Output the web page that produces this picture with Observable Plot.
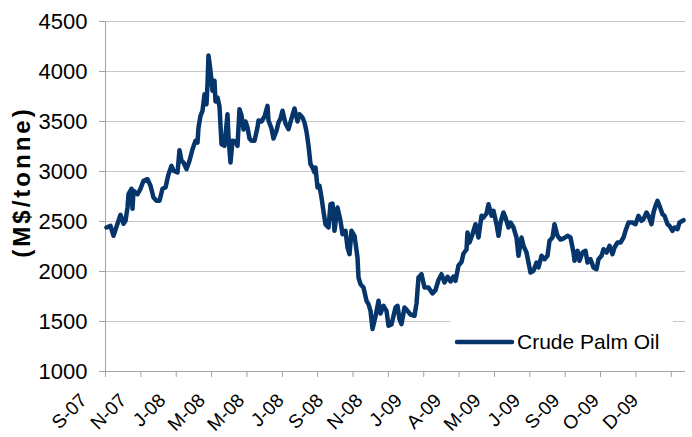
<!DOCTYPE html>
<html><head><meta charset="utf-8">
<script src="https://cdn.jsdelivr.net/npm/d3@7"></script>
<script src="https://cdn.jsdelivr.net/npm/@observablehq/plot@0.6"></script>
<style>
body{margin:0;background:#fff;font-family:"Liberation Sans",Arial,sans-serif;}
#wrap{position:relative;width:692px;height:437px;overflow:hidden;}
#title{position:absolute;left:22px;top:182px;transform:translate(-50%,-50%) rotate(-90deg);font-weight:bold;font-size:24px;letter-spacing:3px;white-space:nowrap;color:#000;}
#legend{position:absolute;left:450px;top:319px;width:223px;height:46px;background:#fff;display:flex;align-items:center;font-size:21px;color:#000;}
#legend svg{display:block;flex:none;}
</style></head><body>
<div id="wrap"><div id="chart"></div>
<div id="title">(M$/tonne)</div>
<div id="legend"><svg width="67" height="10"><line x1="7" y1="5" x2="62" y2="5" stroke="#05356a" stroke-width="4.5" stroke-linecap="round"/></svg><span id="legtext"></span></div>
</div>
<script>
const seriesName = "Crude Palm Oil";
const tickLabels = ["S-07","N-07","J-08","M-08","M-08","J-08","S-08","N-08","J-09","A-09","M-09","J-09","S-09","O-09","D-09"];
const yTicks = [1000,1500,2000,2500,3000,3500,4000,4500];
// trading-day index (approx.) and price
const days = [1,5,8,12,15,18,20,22,23,26,27,28,32,35,38,42,45,48,51,54,57,60,63,66,68,72,74,76,78,81,84,87,90,92,93,95,97,99,101,102,103,105,107,109,110,112,114,116,119,122,123,125,127,130,132,134,136,138,140,142,144,146,149,152,153,156,159,162,163,166,168,171,173,175,177,180,183,186,189,192,194,197,199,201,203,205,207,209,210,212,214,216,218,220,223,225,227,229,232,235,237,240,242,244,246,249,252,253,255,258,261,263,265,267,270,273,275,278,281,283,286,290,292,294,296,299,302,305,309,311,313,316,319,323,327,330,333,336,339,342,345,348,350,353,356,358,361,362,364,367,370,373,376,378,381,383,386,388,391,393,395,398,400,403,405,408,411,413,416,418,421,423,425,428,431,433,436,439,442,444,447,449,452,455,458,462,465,468,469,472,474,477,480,482,485,488,491,493,496,498,501,504,507,509,512,515,518,520,523,527,530,533,536,538,541,543,546,548,550,552,554,557,559,562,564,567,569,572,574,578];
const prices = [2440,2457,2357,2477,2567,2477,2507,2640,2773,2827,2627,2807,2773,2827,2907,2923,2857,2740,2707,2707,2827,2840,2973,3057,3007,2990,3213,3107,3090,3023,3107,3223,3307,3290,3440,3557,3607,3773,3673,3873,4160,4007,3807,3907,3700,3740,3650,3273,3257,3573,3340,3090,3307,3300,3257,3623,3560,3420,3500,3440,3330,3307,3307,3440,3510,3500,3550,3657,3510,3430,3330,3407,3490,3530,3607,3480,3423,3530,3630,3500,3573,3540,3490,3400,3260,3073,3040,2990,3040,2840,2857,2740,2600,2470,2440,2673,2680,2407,2640,2507,2373,2407,2240,2173,2407,2357,2140,1940,1873,1840,1707,1673,1607,1425,1550,1707,1580,1657,1607,1457,1470,1640,1657,1523,1473,1640,1607,1570,1557,1680,1940,1973,1840,1840,1780,1815,1915,1973,1890,1947,1900,1950,1907,2060,2095,2180,2220,2390,2290,2373,2473,2340,2557,2540,2580,2673,2557,2607,2473,2357,2490,2590,2540,2440,2490,2440,2340,2157,2340,2257,2190,2090,1990,2007,2090,2040,2157,2123,2157,2307,2340,2473,2357,2320,2330,2357,2340,2190,2107,2207,2107,2190,2207,2090,2123,2040,2023,2123,2157,2223,2190,2257,2173,2240,2290,2290,2340,2407,2490,2490,2473,2557,2507,2523,2590,2557,2473,2590,2657,2707,2657,2573,2557,2473,2457,2407,2440,2423,2490,2513];

document.getElementById("legtext").textContent = seriesName;
const data = days.map((d, i) => ({day: d, price: prices[i]}));
const totalDays = 580, labelStep = 39.4, tickStep = 35.36;
const labelDays = tickLabels.map((_, i) => i * labelStep);
const tickDays = d3.range(17).map(i => i * tickStep);
const axisGray = "#a3a3a3", gridGray = "#c6c6c6";

const chart = Plot.plot({
  width: 692, height: 437,
  marginLeft: 105, marginRight: 7, marginTop: 21, marginBottom: 66,
  style: {fontFamily: "'Liberation Sans', Arial, sans-serif", color: "#000", background: "#fff"},
  x: {domain: [0, totalDays]},
  y: {domain: [1000, 4500]},
  marks: [
    Plot.gridY({ticks: yTicks, stroke: gridGray, strokeOpacity: 1}),
    Plot.ruleY([1000], {stroke: axisGray}),
    Plot.ruleX([0], {stroke: axisGray}),
    Plot.axisY({ticks: yTicks, tickSize: 6, tickPadding: 12, fontSize: 22, stroke: axisGray, label: null, tickFormat: d => String(d)}),
    Plot.axisX({ticks: tickDays, tickSize: 6, stroke: axisGray, tickFormat: () => "", label: null}),
    Plot.text(labelDays, {x: d => d, text: (d, i) => tickLabels[i], frameAnchor: "bottom", rotate: -45, textAnchor: "end", fontSize: 19, dx: -17.5, dy: 30, fill: "#000"}),
    Plot.line(data, {x: "day", y: "price", stroke: "#05356a", strokeWidth: 4.5, strokeLinejoin: "round", strokeLinecap: "round"})
  ]
});
document.getElementById("chart").append(chart);
</script>
</body></html>
